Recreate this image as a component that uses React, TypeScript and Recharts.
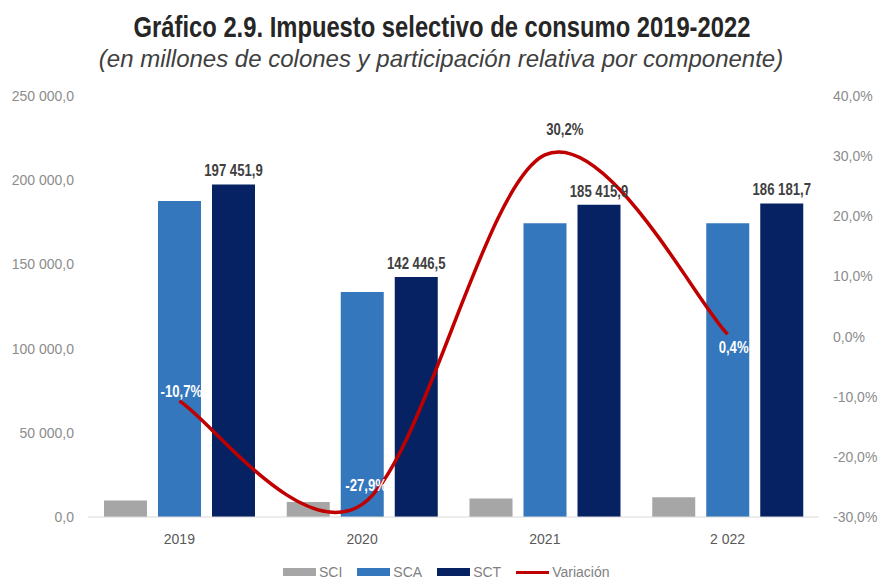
import React from 'react';
import { ComposedChart, Bar, Line, XAxis, YAxis, LabelList } from 'recharts';

const categories = ['2019', '2020', '2021', '2 022'];
const sciValues = [9800, 8900, 11000, 11800];
const scaValues = [187652, 133546, 174416, 174382];
const sctValues = [197451.9, 142446.5, 185415.9, 186181.7];
const variacionValues = [-10.7, -27.9, 30.2, 0.4];
const leftTicks = [0, 50000, 100000, 150000, 200000, 250000];
const rightTicks = [-30, -20, -10, 0, 10, 20, 30, 40];

const data = categories.map((c, i) => ({
  year: c,
  SCI: sciValues[i],
  SCA: scaValues[i],
  SCT: sctValues[i],
  Variacion: variacionValues[i],
}));

const SANS = '"Liberation Sans", Arial, sans-serif';
const NARROW_SCALE = 0.82;

const C_SCI = '#A6A6A6';
const C_SCA = '#3477BC';
const C_SCT = '#062262';
const C_VAR = '#C00000';

const fmtNum = (v: number) => {
  const [i, d] = v.toFixed(1).split('.');
  return i.replace(/\B(?=(\d{3})+(?!\d))/g, ' ') + ',' + d;
};
const fmtPct = (v: number) => v.toFixed(1).replace('.', ',') + '%';

// Excel-like smoothed line (Catmull-Rom Bezier through every point)
const excelSmooth = (context: any) => {
  let pts: number[][] = [];
  return {
    areaStart() {},
    areaEnd() {},
    lineStart() {
      pts = [];
    },
    point(x: number, y: number) {
      pts.push([+x, +y]);
    },
    lineEnd() {
      const n = pts.length;
      if (!n) return;
      context.moveTo(pts[0][0], pts[0][1]);
      for (let i = 0; i < n - 1; i++) {
        const p0 = pts[i - 1] || pts[i];
        const p1 = pts[i];
        const p2 = pts[i + 1];
        const p3 = pts[i + 2] || pts[i + 1];
        context.bezierCurveTo(
          p1[0] + (p2[0] - p0[0]) / 6,
          p1[1] + (p2[1] - p0[1]) / 6,
          p2[0] - (p3[0] - p1[0]) / 6,
          p2[1] - (p3[1] - p1[1]) / 6,
          p2[0],
          p2[1]
        );
      }
    },
  };
};

const NarrowText = (p: any) => {
  const { x, y, children, fontSize, fill, weight = 'bold', baseline } = p;
  return (
    <text
      transform={`translate(${x} ${y}) scale(${NARROW_SCALE} 1)`}
      x={0}
      y={0}
      textAnchor="middle"
      dominantBaseline={baseline}
      fontFamily={SANS}
      fontWeight={weight}
      fontSize={fontSize}
      fill={fill}
    >
      {children}
    </text>
  );
};

// label placement styling for the variation labels (dx, dy, colour)
const VAR_LABEL_STYLE = [
  { dx: 2, dy: -9, fill: '#FFFFFF' },
  { dx: 4, dy: -19, fill: '#FFFFFF' },
  { dx: 20, dy: -25, fill: '#404040' },
  { dx: 6, dy: 13, fill: '#FFFFFF' },
];

const VarLabel = (props: any) => {
  const { x, y, value, index } = props;
  const s = VAR_LABEL_STYLE[index] || { dx: 0, dy: -12, fill: '#404040' };
  return (
    <NarrowText x={x + s.dx} y={y + s.dy} fontSize={16} fill={s.fill} baseline="central">
      {fmtPct(Number(value))}
    </NarrowText>
  );
};

const SctLabel = (props: any) => {
  const { x, y, width, value } = props;
  return (
    <NarrowText x={x + width / 2} y={y - 8} fontSize={16} fill="#404040">
      {fmtNum(Number(value))}
    </NarrowText>
  );
};

const legendItems = [
  { name: 'SCI', color: C_SCI, type: 'rect' },
  { name: 'SCA', color: C_SCA, type: 'rect' },
  { name: 'SCT', color: C_SCT, type: 'rect' },
  { name: 'Variación', color: C_VAR, type: 'line' },
];

export default function App() {
  return (
    <div style={{ position: 'absolute', left: 0, top: 0, width: 882, height: 579, background: '#fff', overflow: 'hidden' }}>
      <svg width={882} height={80} style={{ position: 'absolute', left: 0, top: 0 }}>
        <NarrowText x={442} y={37} fontSize={29} fill="#262626">
          Gráfico 2.9. Impuesto selectivo de consumo 2019-2022
        </NarrowText>
        <text x={441} y={67} textAnchor="middle" fontFamily={SANS} fontStyle="italic" fontSize={24} fill="#404040">
          (en millones de colones y participación relativa por componente)
        </text>
      </svg>
      <div style={{ position: 'absolute', left: 0, top: 0 }}>
        <ComposedChart
          width={882}
          height={579}
          data={data}
          margin={{ top: 96, right: 0, bottom: 32, left: 0 }}
          barGap={11}
        >
          <XAxis
            dataKey="year"
            xAxisId="x"
            height={30}
            tickLine={false}
            tickSize={0}
            tickMargin={17}
            axisLine={{ stroke: '#D9D9D9' }}
            tick={{ fontFamily: SANS, fontSize: 14, fill: '#595959' }}
            interval={0}
          />
          <YAxis
            yAxisId="left"
            orientation="left"
            width={88}
            domain={[0, 250000]}
            ticks={leftTicks}
            interval={0}
            axisLine={false}
            tickLine={false}
            tickSize={0}
            tickMargin={14}
            tickFormatter={fmtNum}
            tick={{ fontFamily: SANS, fontSize: 14, fill: '#8C8C8C' }}
          />
          <YAxis
            yAxisId="right"
            orientation="right"
            width={63}
            domain={[-30, 40]}
            ticks={rightTicks}
            interval={0}
            axisLine={false}
            tickLine={false}
            tickSize={0}
            tickMargin={14}
            tickFormatter={fmtPct}
            tick={{ fontFamily: SANS, fontSize: 14, fill: '#8C8C8C' }}
          />
          <Bar dataKey="SCI" xAxisId="x" yAxisId="left" fill={C_SCI} barSize={43} isAnimationActive={false} />
          <Bar dataKey="SCA" xAxisId="x" yAxisId="left" fill={C_SCA} barSize={43} isAnimationActive={false} />
          <Bar dataKey="SCT" xAxisId="x" yAxisId="left" fill={C_SCT} barSize={43} isAnimationActive={false}>
            <LabelList dataKey="SCT" content={<SctLabel />} />
          </Bar>
          <Line
            dataKey="Variacion"
            xAxisId="x"
            yAxisId="right"
            type={excelSmooth as any}
            stroke={C_VAR}
            strokeWidth={3.5}
            dot={false}
            activeDot={false}
            isAnimationActive={false}
          >
            <LabelList dataKey="Variacion" content={<VarLabel />} />
          </Line>
        </ComposedChart>
      </div>
      <div
        style={{
          position: 'absolute',
          left: 283,
          top: 565,
          display: 'flex',
          alignItems: 'center',
          gap: 15,
          fontFamily: SANS,
          fontSize: 14,
          color: '#7F7F7F',
          lineHeight: '14px',
        }}
      >
        {legendItems.map((it) => (
          <div key={it.name} style={{ display: 'flex', alignItems: 'center', gap: 3 }}>
            <div
              style={{
                width: 33,
                height: it.type === 'rect' ? 8 : 3,
                background: it.color,
              }}
            />
            <span>{it.name}</span>
          </div>
        ))}
      </div>
    </div>
  );
}
